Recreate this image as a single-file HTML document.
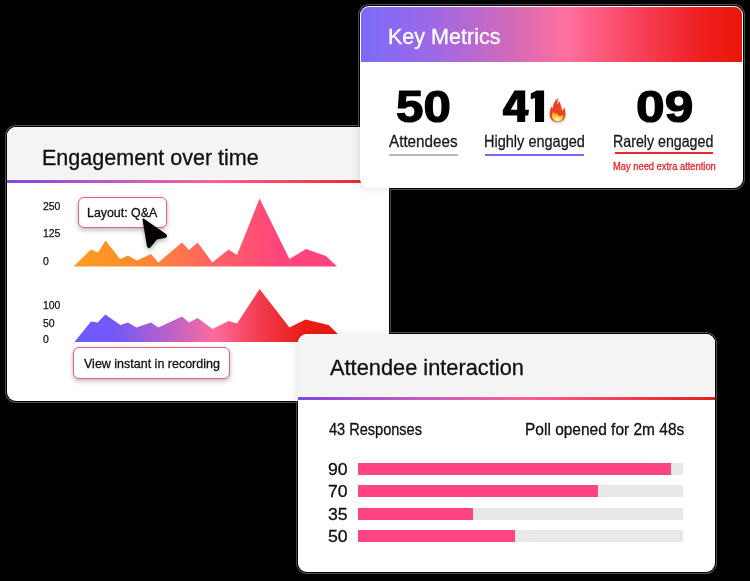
<!DOCTYPE html>
<html><head><meta charset="utf-8">
<style>
html,body{margin:0;padding:0;background:#000;}
body{width:750px;height:581px;position:relative;overflow:hidden;font-family:"Liberation Sans",sans-serif;color:#111;}
.card{position:absolute;border-radius:9px;z-index:1;}
.ring{position:absolute;border-radius:9px;box-shadow:0 0 0 1px #000,0 0 0 2px #4e4e4e;z-index:0;}
.card .in{position:absolute;left:0;top:0;right:0;bottom:0;border-radius:9px;overflow:hidden;background:#fff;}
.t{position:absolute;white-space:nowrap;transform-origin:0 0;line-height:1;-webkit-text-stroke:0.3px;}
.hd{position:absolute;left:0;top:0;right:0;background:#f4f4f4;}
.gl{position:absolute;left:0;right:0;background:linear-gradient(90deg,#7b4ae2 0%,#9548d8 7%,#c65bc4 30%,#ff5f92 55%,#f53a4c 80%,#ea1c1c 100%);}
.num{font-weight:bold;font-size:44px;-webkit-text-stroke:1.2px #000;color:#000;}
.lbl{font-size:16.5px;color:#1a1a1a;}
.ul{position:absolute;height:2px;}
.ax{font-size:11px;color:#111;transform:scaleX(0.95);-webkit-text-stroke:0.25px;margin-top:0.2px;}
.pill{position:absolute;background:#fff;border:1.5px solid #ea5b8c;border-radius:6px;box-sizing:border-box;box-shadow:0 2px 5px rgba(0,0,0,.28);}
.bar{position:absolute;left:59.5px;width:325.5px;height:12px;background:#e8e8e8;}
.bar i{position:absolute;left:0;top:0;bottom:0;background:#ff4581;display:block;}
</style></head><body>

<div class="ring" style="left:7px;top:127px;width:382px;height:274px;"></div>
<div class="ring" style="left:360px;top:6px;width:383px;height:182px;"></div>
<div class="ring" style="left:298px;top:334px;width:417px;height:238px;"></div>
<!-- Engagement card -->
<div class="card" id="c1" style="left:7px;top:127px;width:382px;height:274px;">
 <div class="in">
  <div class="hd" style="height:52px;"></div>
  <div class="gl" style="top:53px;height:2.8px;"></div>
  <span class="t" id="t_eng" style="left:35.3px;top:21.3px;font-size:21.5px;transform:scaleX(1.002);">Engagement over time</span>
  <span class="t ax" style="left:35.5px;top:74px;">250</span>
  <span class="t ax" style="left:35.5px;top:101px;">125</span>
  <span class="t ax" style="left:35.5px;top:128.5px;">0</span>
  <span class="t ax" style="left:35.5px;top:172.5px;">100</span>
  <span class="t ax" style="left:35.5px;top:190.5px;">50</span>
  <span class="t ax" style="left:35.5px;top:206.5px;">0</span>
  <svg style="position:absolute;left:0;top:0;" width="382" height="274" viewBox="7 127 382 274">
   <defs>
    <linearGradient id="g1" gradientUnits="userSpaceOnUse" x1="74" y1="0" x2="337" y2="0">
     <stop offset="0" stop-color="#ff9d1a"/><stop offset="0.3" stop-color="#ff8638"/><stop offset="0.55" stop-color="#ff5f68"/><stop offset="0.78" stop-color="#ff467c"/><stop offset="1" stop-color="#ff447e"/>
    </linearGradient>
    <linearGradient id="g2" gradientUnits="userSpaceOnUse" x1="74" y1="0" x2="345" y2="0">
     <stop offset="0" stop-color="#6e5bff"/><stop offset="0.15" stop-color="#7458f8"/><stop offset="0.38" stop-color="#c463c4"/><stop offset="0.52" stop-color="#ff6b9e"/><stop offset="0.68" stop-color="#f33c52"/><stop offset="0.85" stop-color="#ea1c15"/><stop offset="1" stop-color="#e8190f"/>
    </linearGradient>
   </defs>
   <polygon fill="url(#g1)" points="73.6,266.4 91,249.4 98,252.4 105.6,240.4 120,259 128,255.6 137,260.6 151,254 158.4,262.4 182,242.4 189,250 197.6,242.4 212.4,262.4 228.6,249.4 237,255 259.6,198.4 289.4,259 306,249 326,256 337,266.4"/>
   <polygon fill="url(#g2)" points="74.4,342 91,321.4 97.6,322.6 105.4,314.6 120.4,325 128,322.6 136.6,327.4 151,322.6 158.4,327.4 182,316.6 189,322.4 197.6,318 212.4,329 228.6,321 237,323.4 259.6,289 289.4,327.4 305.6,319.4 328.6,325 346,342"/>
  </svg>
  <div class="pill" style="left:71px;top:70px;width:89px;height:31px;"></div>
  <span class="t" id="t_lay" style="left:80.4px;top:79px;font-size:13px;transform:scaleX(0.953);">Layout: Q&amp;A</span>
  <div class="pill" style="left:66px;top:220px;width:157px;height:32px;"></div>
  <span class="t" id="t_view" style="left:77px;top:229.5px;font-size:13px;transform:scaleX(0.961);">View instant in recording</span>
  <svg style="position:absolute;left:125px;top:85px;overflow:visible;" width="50" height="50" viewBox="132 212 50 50">
   <path d="M143.2 219.2 L165.5 234.6 Q167.2 236.2 165 237 L156.5 238.8 L150.2 246.6 Q148.2 248.2 147.6 245.6 Z" fill="#000" stroke="#000" stroke-width="1.5" stroke-linejoin="round" style="filter:drop-shadow(0 2px 2px rgba(0,0,0,.35));"/>
  </svg>
 </div>
</div>

<!-- Key Metrics card -->
<div class="card" id="c2" style="left:360px;top:6px;width:383px;height:182px;box-shadow:-2px 2px 7px rgba(0,0,0,.09);">
 <div class="in">
  <div style="position:absolute;left:1px;top:1px;right:1px;height:55px;border-radius:8px 8px 0 0;background:linear-gradient(90deg,#7b6bfb 0%,#a068e4 20%,#d46ab8 40%,#ff6f9e 54%,#f63c52 75%,#ee1e1e 90%,#ea1607 100%);"></div>
  <span class="t" id="t_key" style="left:28.4px;top:20.5px;font-size:21.5px;color:#fff;transform:scaleX(1.002);">Key Metrics</span>
  <span class="t num" id="n50" style="left:35.5px;top:78.5px;transform:scaleX(1.12);">50</span>
  <svg id="n41" style="position:absolute;left:140px;top:82px;" width="48" height="38" viewBox="500 88 48 38"><path fill="#000" fill-rule="evenodd" d="M514.6 90.4 L525.2 90.4 L525.2 109.8 L529 109.8 L528.3 115.4 L525.2 115.4 L525.2 121.9 L517.2 121.9 L517.2 115.4 L502.8 115.4 L502.8 109.9 Z M517.2 98.6 L517.2 109.8 L510.7 109.8 Z"/><path fill="#000" d="M544.1 90.4 L536.9 90.4 L530.8 93.5 L530.8 99.3 L535 98 L535 121.9 L544.1 121.9 Z"/></svg>
  <span class="t num" id="n09" style="left:275.5px;top:78.5px;transform:scaleX(1.17);">09</span>
  <span class="t lbl" id="l1" style="left:29px;top:127px;transform:scaleX(0.923);">Attendees</span>
  <span class="t lbl" id="l2" style="left:123.5px;top:127px;transform:scaleX(0.88);">Highly engaged</span>
  <span class="t lbl" id="l3" style="left:253px;top:127px;transform:scaleX(0.861);">Rarely engaged</span>
  <div class="ul" style="left:29px;width:69px;top:147.5px;background:#b9b9b9;"></div>
  <div class="ul" style="left:124.5px;width:99px;top:147.5px;background:#7a68f6;"></div>
  <div class="ul" style="left:254.5px;width:98px;top:146px;background:#ea2a2a;"></div>
  <span class="t" id="t_may" style="left:253px;top:156px;font-size:10px;color:#e8262a;transform:scaleX(0.934);">May need extra attention</span>
  <svg id="flame" style="position:absolute;left:188px;top:90px;overflow:visible;filter:drop-shadow(0 1px 1.5px rgba(0,0,0,.22));" width="19" height="28" viewBox="548 96 19 28">
   <defs><linearGradient id="fy" x1="0" y1="111.5" x2="0" y2="121.5" gradientUnits="userSpaceOnUse"><stop offset="0" stop-color="#fca311"/><stop offset="0.55" stop-color="#ffc928"/><stop offset="1" stop-color="#ffe06a"/></linearGradient>
   <radialGradient id="fw" cx="557.3" cy="119.2" r="3.2" gradientUnits="userSpaceOnUse"><stop offset="0" stop-color="#fff6e0" stop-opacity="1"/><stop offset="0.6" stop-color="#ffeeb8" stop-opacity=".8"/><stop offset="1" stop-color="#ffd84a" stop-opacity="0"/></radialGradient></defs>
   <path d="M557.5 122.2 C553 122.2 549.7 119 549.7 114.6 C549.7 111.2 550.5 108.6 551.3 106.5 C551.8 107.4 552.3 108 552.9 108.4 C553 103.5 555.4 99.6 558.7 98 C557.4 100.4 557.0 102.6 557.6 104.8 C558.2 103.2 558.9 101.9 559.8 101.2 C560.3 104.2 561.4 107.2 562.3 111 C563.3 110 564 108.4 564.4 107.2 C565.2 109.6 565.4 112.4 565.4 114.6 C565.4 119 562 122.2 557.5 122.2 Z" fill="#ee4122"/>
   <path d="M557.5 121.4 C554.4 121.4 552 119.3 552 116.1 C552 114.4 552.6 112.9 553.5 111.8 C554 112.8 554.6 113.5 555.4 113.9 C555.7 113.5 556.1 113.2 556.6 113.1 C557.3 114.6 558.3 115.6 559.6 116 C560.9 116 562 115.5 562.7 114.5 C563.2 115.6 563.3 116.8 563.1 117.7 C562.5 120 560.4 121.4 557.5 121.4 Z" fill="url(#fy)"/>
   <ellipse cx="557.3" cy="119.2" rx="3.2" ry="2.6" fill="url(#fw)"/>
  </svg>
 </div>
</div>

<!-- Attendee card -->
<div class="card" id="c3" style="left:298px;top:334px;width:417px;height:238px;box-shadow:-2px 1px 7px rgba(0,0,0,.10);">
 <div class="in">
  <div class="hd" style="height:62px;"></div>
  <div class="gl" style="top:63.1px;height:2.7px;"></div>
  <span class="t" id="t_att" style="left:32px;top:24px;font-size:21.5px;transform:scaleX(1.014);">Attendee interaction</span>
  <span class="t" id="t_43" style="left:31px;top:88px;font-size:16px;transform:scaleX(0.909);">43 Responses</span>
  <span class="t" id="t_poll" style="left:227px;top:88px;font-size:16px;transform:scaleX(0.968);">Poll opened for 2m 48s</span>
  <span class="t" id="b90" style="left:30.2px;top:127px;font-size:16.5px;transform:scaleX(1.07);">90</span>
  <span class="t" id="b70" style="left:30.2px;top:149px;font-size:16.5px;transform:scaleX(1.07);">70</span>
  <span class="t" id="b35" style="left:30.2px;top:172px;font-size:16.5px;transform:scaleX(1.07);">35</span>
  <span class="t" id="b50" style="left:30.2px;top:194px;font-size:16.5px;transform:scaleX(1.07);">50</span>
  <div class="bar" style="top:129px;"><i style="width:313px;"></i></div>
  <div class="bar" style="top:151px;"><i style="width:240px;"></i></div>
  <div class="bar" style="top:174px;"><i style="width:115.5px;"></i></div>
  <div class="bar" style="top:196px;"><i style="width:157px;"></i></div>
 </div>
</div>
</body></html>
